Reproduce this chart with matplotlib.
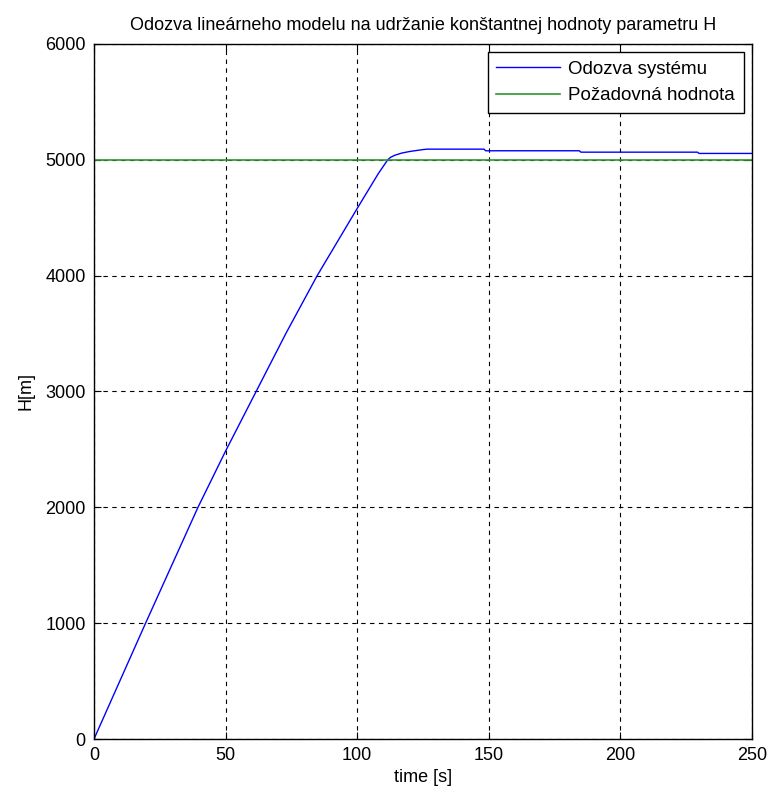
import matplotlib
matplotlib.use("Agg")
import matplotlib.pyplot as plt
import numpy as np

plt.rcParams['font.family'] = ['Liberation Sans', 'DejaVu Sans']

# odozva systemu (odcitane z grafu)
t_resp = [0, 19.6, 39.5, 50, 61.6, 73, 84.8, 100, 108, 111.6, 112.7, 114.4, 116.9, 120, 124.9, 126.5,
          148.2, 148.8, 184.4, 185.0, 229.3, 229.9, 250]
h_resp = [0, 1000, 2000, 2486, 3000, 3505, 4000, 4580, 4880, 5000, 5022, 5040, 5058, 5072, 5088, 5092,
          5092, 5078, 5078, 5066, 5066, 5055, 5055]

# pozadovana hodnota
t_ref = [0, 250]
h_ref = [5000, 5000]

xticks = [0, 50, 100, 150, 200, 250]
yticks = [0, 1000, 2000, 3000, 4000, 5000, 6000]

fig = plt.figure(figsize=(7.73, 7.95), dpi=100)
ax = fig.add_axes([0.1216, 0.0704, 0.8512, 0.8743])

ax.plot(t_resp, h_resp, color='#0000ff', lw=1.0, label='Odozva systému')
ax.plot(t_ref, h_ref, color='#2e962e', lw=1.2, label='Požadovná hodnota')

ax.set_xlim(0, 250)
ax.set_ylim(0, 6000)
ax.set_xticks(xticks)
ax.set_yticks(yticks)
ax.tick_params(direction='in', length=5, top=True, right=True, labelsize=13, pad=6, width=0.8)
ax.grid(True, color='black', linestyle=(0, (4, 4)), lw=0.8)
for s in ax.spines.values():
    s.set_linewidth(1.0)

ax.set_title('Odozva lineárneho modelu na udržanie konštantnej hodnoty parametru H', fontsize=13, pad=10)
ax.set_xlabel('time [s]', fontsize=13, labelpad=3)
ax.set_ylabel('H[m]', fontsize=13, labelpad=8)

leg = ax.legend(loc='upper right', fontsize=13.5, fancybox=False, framealpha=1, edgecolor='black',
                borderaxespad=0.45, handlelength=3.4, handletextpad=0.45, borderpad=0.45,
                labelspacing=0.5)
leg.get_frame().set_linewidth(1.0)

fig.savefig('out.png', dpi=100)
